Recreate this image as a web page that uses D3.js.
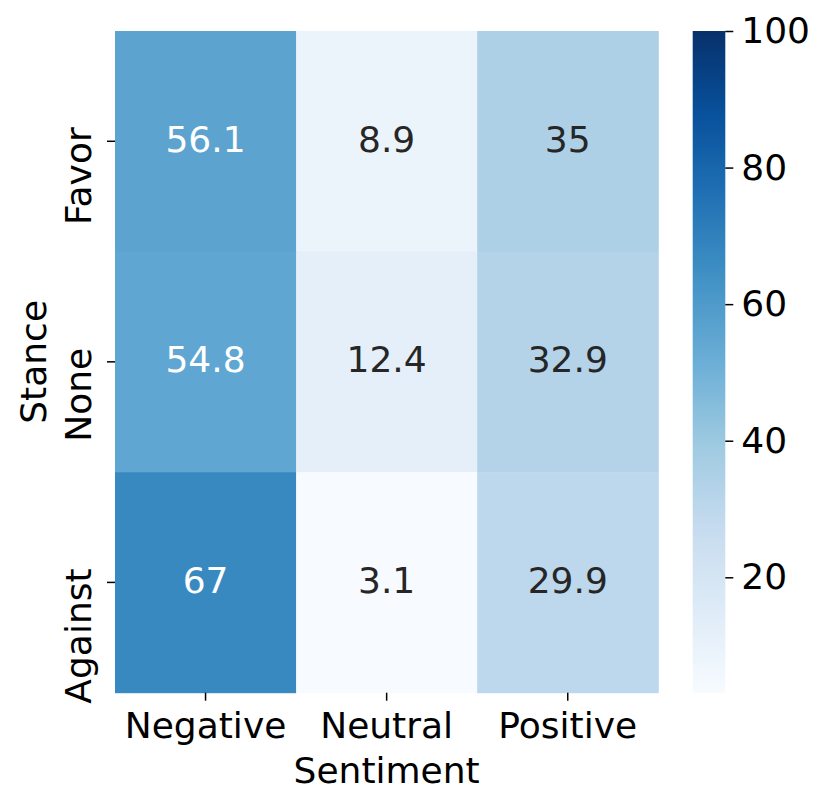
<!DOCTYPE html>
<html>
<head>
<meta charset="utf-8">
<script src="https://cdn.jsdelivr.net/npm/d3@7"></script>
<style>
  html, body { margin: 0; padding: 0; background: #fff; }
  svg { display: block; }
  text { font-family: "DejaVu Sans", sans-serif; }
</style>
</head>
<body>
<svg id="chart" width="830" height="808"></svg>
<script>
const rows = ["Favor", "None", "Against"];
const cols = ["Negative", "Neutral", "Positive"];
const values = [
  [56.1, 8.9, 35],
  [54.8, 12.4, 32.9],
  [67, 3.1, 29.9]
];
const cbarTicks = [20, 40, 60, 80, 100];
const xTitle = "Sentiment";
const yTitle = "Stance";
const vmin = 3.1, vmax = 100;
const bluesStops = ["#f7fbff", "#deebf7", "#c6dbef", "#9ecae1", "#6baed6", "#4292c6", "#2171b5", "#08519c", "#08306b"];

const svg = d3.select("#chart");
const fs = 36;
const L = 115, R = 658.3, T = 31, B = 692.7;
const cbL = 692.7, cbR = 725.3;

const x = d3.scaleBand().domain(cols).range([L, R]).padding(0);
const y = d3.scaleBand().domain(rows).range([T, B]).padding(0);

const tNorm = d3.scaleLinear().domain([vmin, vmax]).range([0, 1]).clamp(true);
const cmap = d3.scaleLinear()
  .domain(bluesStops.map((_, i) => i / (bluesStops.length - 1)))
  .range(bluesStops)
  .interpolate(d3.interpolateRgb);
const color = v => cmap(tNorm(v));

function lum(c) {
  const rgb = d3.rgb(c);
  const f = u => { u /= 255; return u <= 0.03928 ? u / 12.92 : Math.pow((u + 0.055) / 1.055, 2.4); };
  return 0.2126 * f(rgb.r) + 0.7152 * f(rgb.g) + 0.0722 * f(rgb.b);
}

const cells = [];
rows.forEach((r, i) => cols.forEach((c, j) => cells.push({ r, c, v: values[i][j] })));

svg.append("g").selectAll("rect").data(cells).join("rect")
  .attr("x", d => x(d.c))
  .attr("y", d => y(d.r))
  .attr("width", x.bandwidth() + 0.5)
  .attr("height", y.bandwidth() + 0.5)
  .attr("fill", d => color(d.v));

svg.append("g").selectAll("text").data(cells).join("text")
  .attr("x", d => x(d.c) + x.bandwidth() / 2)
  .attr("y", d => y(d.r) + y.bandwidth() / 2 + 10.5)
  .attr("text-anchor", "middle")
  .attr("font-size", fs)
  .attr("fill", d => lum(color(d.v)) < 0.408 ? "#ffffff" : "#262626")
  .text(d => String(d.v));

// X axis
const xAxis = svg.append("g")
  .attr("transform", `translate(0,${B})`)
  .call(d3.axisBottom(x).tickSize(8).tickPadding(6));
xAxis.select(".domain").remove();
xAxis.selectAll(".tick line").attr("stroke", "#000").attr("stroke-width", 1.5);
xAxis.selectAll(".tick text")
  .attr("font-size", fs)
  .attr("fill", "#000")
  .attr("font-family", "DejaVu Sans")
  .attr("dy", null)
  .attr("y", 45.5);

// Y axis
const yAxis = svg.append("g")
  .attr("transform", `translate(${L},0)`)
  .call(d3.axisLeft(y).tickSize(8));
yAxis.select(".domain").remove();
yAxis.selectAll(".tick line").attr("stroke", "#000").attr("stroke-width", 1.5);
yAxis.selectAll(".tick text").remove();
yAxis.selectAll(".tick").append("text")
  .attr("transform", "translate(-24,-14) rotate(-90)")
  .attr("text-anchor", "end")
  .attr("font-size", fs)
  .attr("fill", "#000")
  .attr("font-family", "DejaVu Sans")
  .text(d => d);

// Axis titles
svg.append("text")
  .attr("x", (L + R) / 2)
  .attr("y", 782.5)
  .attr("text-anchor", "middle")
  .attr("font-size", fs)
  .attr("fill", "#000")
  .text(xTitle);

svg.append("text")
  .attr("transform", `translate(46,${(T + B) / 2}) rotate(-90)`)
  .attr("text-anchor", "middle")
  .attr("font-size", fs)
  .attr("fill", "#000")
  .text(yTitle);

// Colorbar
const cbY = d3.scaleLinear().domain([vmin, vmax]).range([B, T]);
const defs = svg.append("defs");
const grad = defs.append("linearGradient").attr("id", "cbgrad")
  .attr("x1", 0).attr("y1", 1).attr("x2", 0).attr("y2", 0);
d3.range(0, 101).forEach(k => {
  const t = k / 100;
  grad.append("stop").attr("offset", t).attr("stop-color", cmap(t));
});
svg.append("rect")
  .attr("x", cbL).attr("y", T)
  .attr("width", cbR - cbL).attr("height", B - T)
  .attr("fill", "url(#cbgrad)");

const cbAxis = svg.append("g")
  .attr("transform", `translate(${cbR},0)`)
  .call(d3.axisRight(cbY).tickValues(cbarTicks).tickSize(8).tickPadding(8).tickFormat(d3.format("d")));
cbAxis.select(".domain").remove();
cbAxis.selectAll(".tick line").attr("stroke", "#000").attr("stroke-width", 1.5);
cbAxis.selectAll(".tick text")
  .attr("font-size", fs)
  .attr("fill", "#000")
  .attr("font-family", "DejaVu Sans");
</script>
</body>
</html>
